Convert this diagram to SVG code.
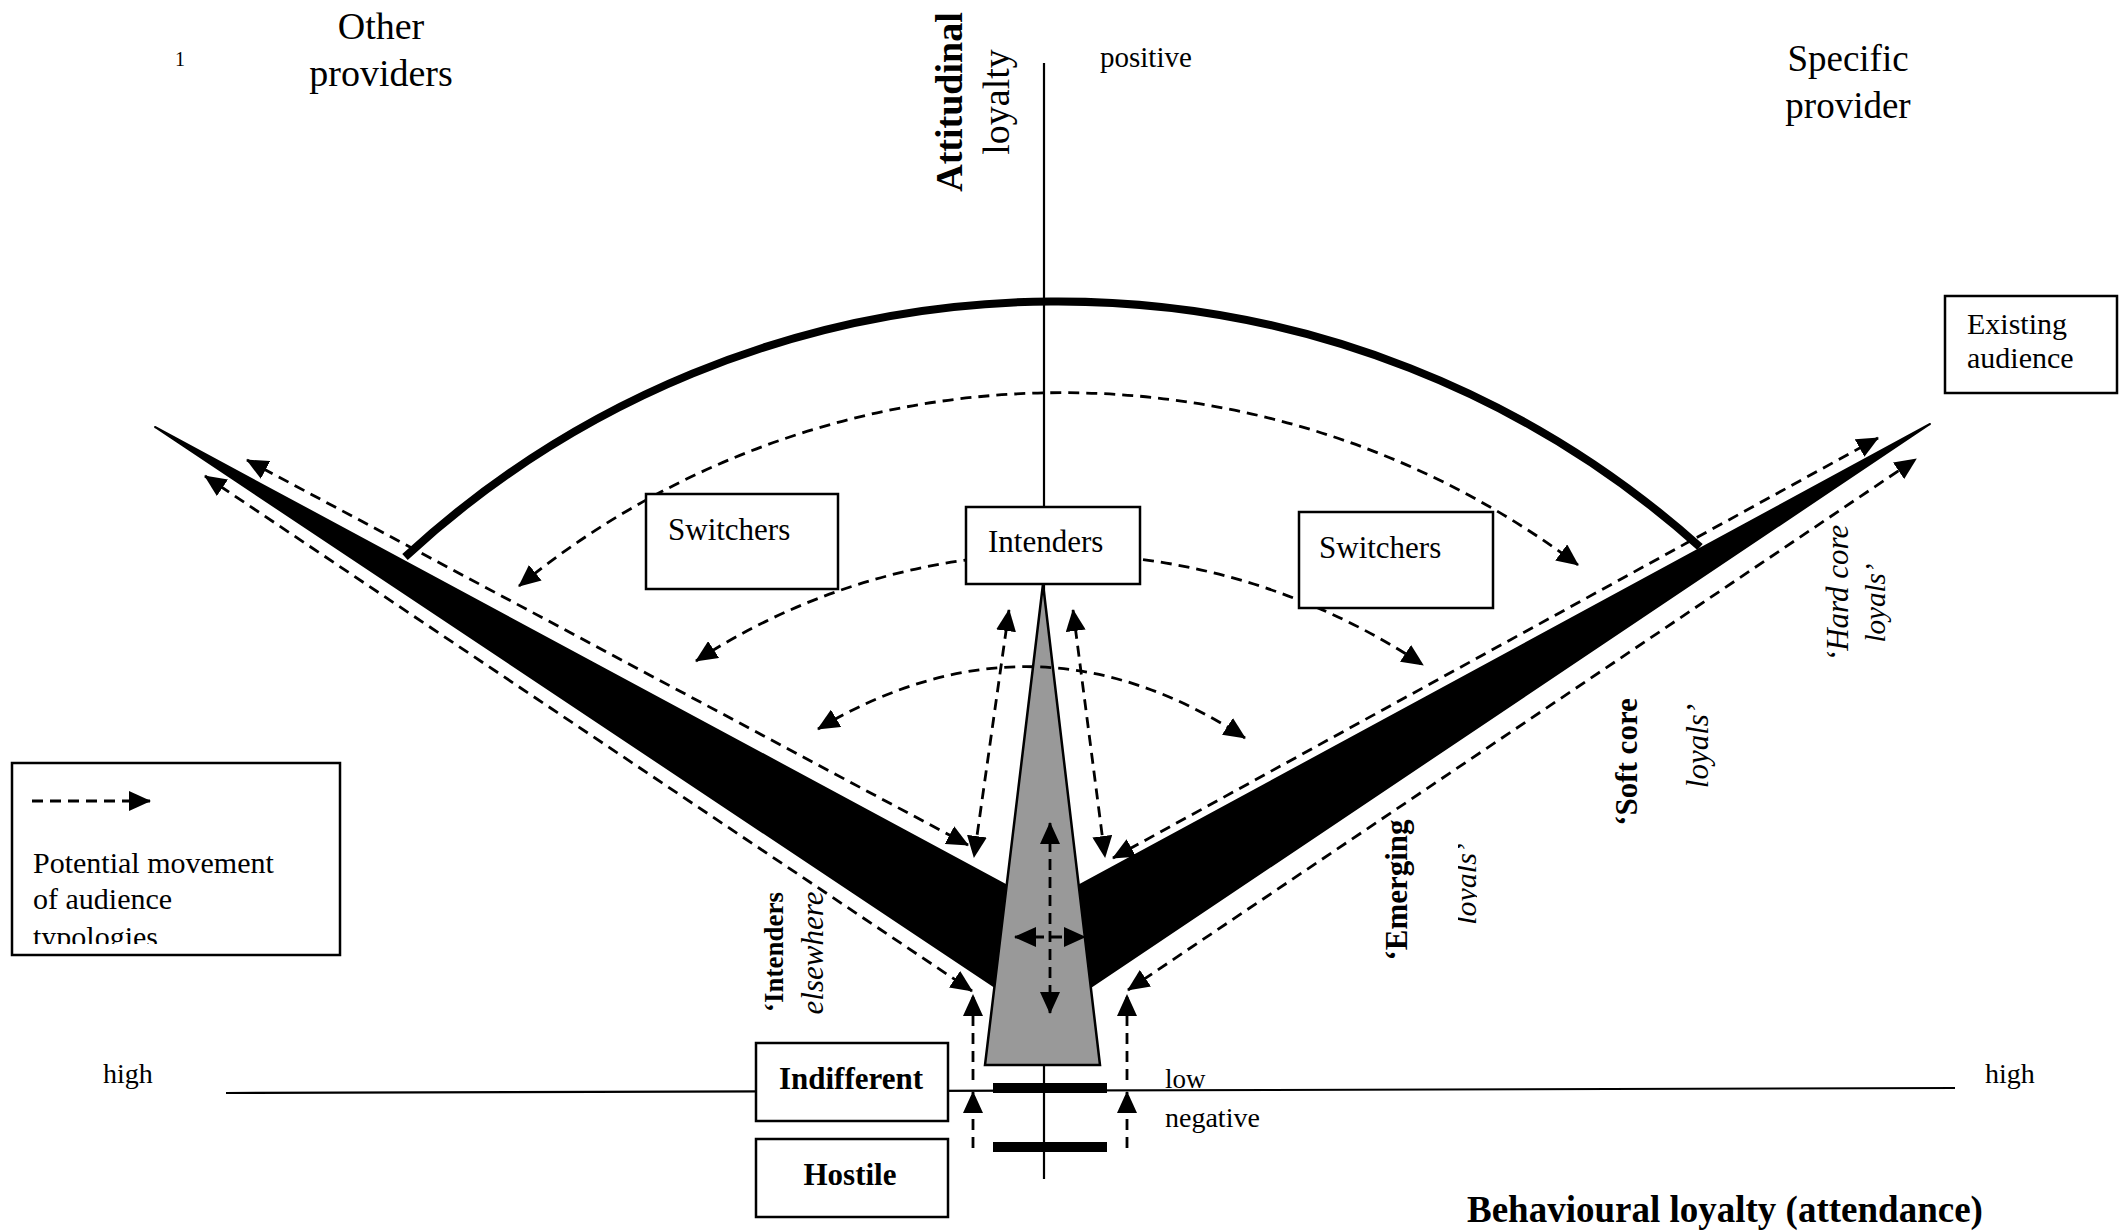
<svg xmlns="http://www.w3.org/2000/svg" width="2119" height="1231" viewBox="0 0 2119 1231">
<style>
text{font-family:"Liberation Serif","Times New Roman",serif;fill:#000}
.box{fill:#fff;stroke:#000;stroke-width:2.5}
.dash{fill:none;stroke:#000;stroke-width:2.8;stroke-dasharray:11 7;marker-start:url(#ah);marker-end:url(#ah)}
.dash1{fill:none;stroke:#000;stroke-width:2.8;stroke-dasharray:11 7;marker-end:url(#ah)}
.axis{stroke:#000;stroke-width:2.2;fill:none}
.b{font-weight:bold}
.i{font-style:italic}
</style>
<defs>
<marker id="ah" viewBox="0 0 22 20" refX="21" refY="10" markerWidth="22" markerHeight="20" markerUnits="userSpaceOnUse" orient="auto-start-reverse">
<path d="M0,0 L22,10 L0,20 z" fill="#000"/>
</marker>
<clipPath id="legclip"><rect x="14" y="765" width="324" height="179"/></clipPath>
<clipPath id="emclip"><rect x="1458" y="800" width="19" height="160"/></clipPath>
<clipPath id="elclip"><rect x="790" y="890" width="60" height="140"/></clipPath>
</defs>

<g id="axes">
<line class="axis" x1="1044" y1="63" x2="1044" y2="1179"/>
<line class="axis" x1="226" y1="1093" x2="1955" y2="1088"/>
</g>

<g id="arc">
<path d="M405,557 A962,962 0 0 1 1700,547" fill="none" stroke="#000" stroke-width="8"/>
</g>

<g id="wedges">
<polygon points="155,427 1043,905 1930,424 1043,1019" fill="#000" stroke="#000" stroke-width="2" stroke-linejoin="round"/>
</g>

<g id="core">
<polygon points="1043,584 985,1065 1100,1065" fill="#999999" stroke="#000" stroke-width="2.5"/>
<rect x="993" y="1083" width="114" height="10" fill="#000"/>
<rect x="993" y="1142" width="114" height="10" fill="#000"/>
</g>

<g id="connectors">
<path class="dash" d="M519,586 A859,859 0 0 1 1578,565"/>
<path class="dash" d="M696,661 A660,660 0 0 1 1423,665"/>
<path class="dash" d="M818,729 Q1035,600 1245,738"/>
<line class="dash" x1="1009" y1="610" x2="974" y2="857"/>
<line class="dash" x1="1073" y1="610" x2="1105" y2="857"/>
<line class="dash" x1="247" y1="460" x2="968" y2="845"/>
<line class="dash" x1="205" y1="476" x2="972" y2="991"/>
<line class="dash" x1="1113" y1="858" x2="1878" y2="438"/>
<line class="dash" x1="1128" y1="990" x2="1916" y2="459"/>
<line class="dash1" x1="973" y1="1148" x2="973" y2="1092"/>
<line class="dash1" x1="973" y1="1080" x2="973" y2="995"/>
<line class="dash1" x1="1127" y1="1148" x2="1127" y2="1092"/>
<line class="dash1" x1="1127" y1="1080" x2="1127" y2="995"/>
<line class="dash" x1="1050" y1="823" x2="1050" y2="1013"/>
<line class="dash" x1="1015" y1="937" x2="1085" y2="937"/>
</g>

<g id="node-intenders">
<rect class="box" x="966" y="507" width="174" height="77"/>
<text x="988" y="552" font-size="31">Intenders</text>
</g>
<g id="node-switchers-left">
<rect class="box" x="646" y="494" width="192" height="95"/>
<text x="668" y="540" font-size="31">Switchers</text>
</g>
<g id="node-switchers-right">
<rect class="box" x="1299" y="512" width="194" height="96"/>
<text x="1319" y="558" font-size="31">Switchers</text>
</g>
<g id="node-existing">
<rect class="box" x="1945" y="296" width="172" height="97"/>
<text x="1967" y="334" font-size="30">Existing</text>
<text x="1967" y="368" font-size="30">audience</text>
</g>
<g id="node-indifferent">
<rect class="box" x="756" y="1043" width="192" height="78"/>
<text class="b" x="851" y="1089" font-size="31" text-anchor="middle">Indifferent</text>
</g>
<g id="node-hostile">
<rect class="box" x="756" y="1139" width="192" height="78"/>
<text class="b" x="850" y="1185" font-size="31" text-anchor="middle">Hostile</text>
</g>
<g id="legend">
<rect class="box" x="12" y="763" width="328" height="192"/>
<line class="dash1" x1="32" y1="801" x2="150" y2="801"/>
<g clip-path="url(#legclip)">
<text x="33" y="873" font-size="30">Potential movement</text>
<text x="33" y="909" font-size="30">of audience</text>
<text x="33" y="947" font-size="30">typologies</text>
</g>
</g>

<g id="labels">
<text x="180" y="66" font-size="20" text-anchor="middle">1</text>
<text x="381" y="39" font-size="38" text-anchor="middle">Other</text>
<text x="381" y="86" font-size="38" text-anchor="middle">providers</text>
<text x="1100" y="67" font-size="29">positive</text>
<text x="1848" y="71" font-size="37" text-anchor="middle">Specific</text>
<text x="1848" y="118" font-size="37" text-anchor="middle">provider</text>
<text class="b" transform="translate(962,102) rotate(-90)" font-size="38" text-anchor="middle">Attitudinal</text>
<text transform="translate(1009,102) rotate(-90)" font-size="38" text-anchor="middle">loyalty</text>
<text x="103" y="1083" font-size="28">high</text>
<text x="1985" y="1083" font-size="28">high</text>
<text x="1165" y="1088" font-size="27">low</text>
<text x="1165" y="1127" font-size="28">negative</text>
<text class="b" x="1467" y="1222" font-size="37">Behavioural loyalty (attendance)</text>
<text class="b" transform="translate(783,952) rotate(-90)" font-size="27" text-anchor="middle">‘Intenders</text>
<g clip-path="url(#elclip)">
<text class="i" transform="translate(823,953) rotate(-90)" font-size="31" text-anchor="middle">elsewhere</text>
</g>
<text class="b" transform="translate(1407,890) rotate(-90)" font-size="31" text-anchor="middle">‘Emerging</text>
<g clip-path="url(#emclip)">
<text class="i" transform="translate(1476,884) rotate(-90)" font-size="30" text-anchor="middle">loyals’</text>
</g>
<text class="b" transform="translate(1637,762) rotate(-90)" font-size="31" text-anchor="middle">‘Soft core</text>
<text class="i" transform="translate(1708,746) rotate(-90)" font-size="31" text-anchor="middle">loyals’</text>
<text class="i" transform="translate(1848,593) rotate(-90)" font-size="31" text-anchor="middle">‘Hard core</text>
<text class="i" transform="translate(1885,603) rotate(-90)" font-size="29" text-anchor="middle">loyals’</text>
</g>
</svg>
